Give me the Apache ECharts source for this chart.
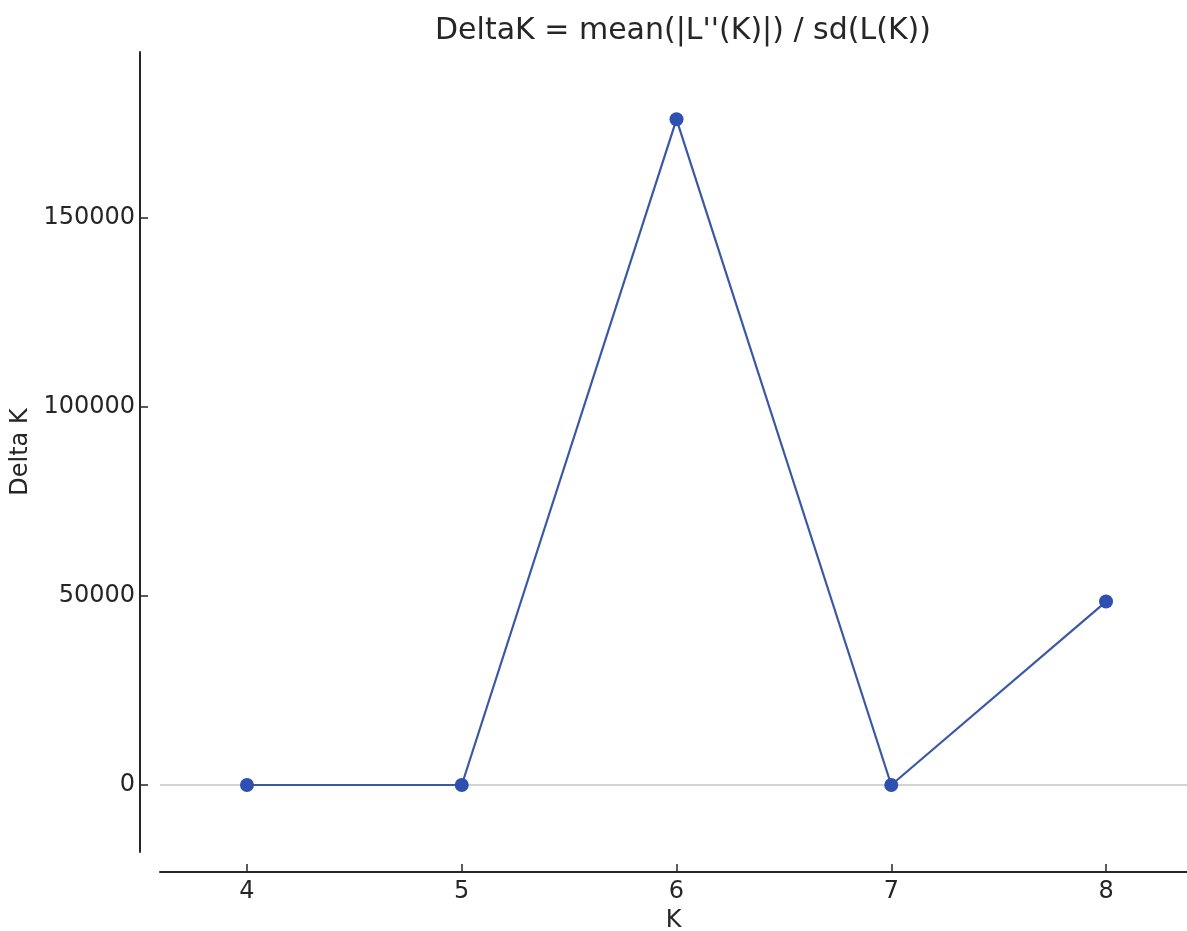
<!DOCTYPE html>
<html>
<head>
<meta charset="utf-8">
<script src="https://cdn.jsdelivr.net/npm/echarts@6/dist/echarts.min.js"></script>
<style>
  html, body { margin: 0; padding: 0; background: #fff; }
  #chart { width: 1187px; height: 931px; }
</style>
</head>
<body>
<div id="chart"></div>
<script>
const kValues = [4, 5, 6, 7, 8]
const deltaK = [0, 0, 176000, 0, 48500]
const xTicks = [4, 5, 6, 7, 8]
const yTicks = [0, 50000, 100000, 150000]

const font = 'DejaVu Sans'
const ink = '#262626'

const chart = echarts.init(document.getElementById('chart'))
chart.setOption({
  animation: false,
  title: {
    text: "DeltaK = mean(|L''(K)|) / sd(L(K))",
    left: 678, top: 11, textAlign: 'center',
    textStyle: { fontFamily: font, fontSize: 30, fontWeight: 'normal', color: ink }
  },
  grid: { left: 160, right: 0, top: 52, bottom: 79, outerBoundsMode: 'none', containLabel: false },
  xAxis: {
    type: 'value', min: 3.595, max: 8.377, offset: 20,
    name: 'K', nameLocation: 'middle', nameGap: 34,
    nameTextStyle: { fontFamily: font, fontSize: 24, color: ink },
    axisLine: { onZero: false, lineStyle: { color: ink, width: 2 } },
    axisTick: { inside: true, length: 8, customValues: xTicks, lineStyle: { color: ink, width: 1.5 } },
    axisLabel: { customValues: xTicks, margin: 8, fontFamily: font, fontSize: 24, color: ink, formatter: v => String(v) },
    splitLine: { show: false }
  },
  yAxis: {
    type: 'value', min: -17715, max: 193800, offset: 20,
    name: 'Delta K', nameLocation: 'middle', nameGap: 89,
    nameTextStyle: { fontFamily: font, fontSize: 24, color: ink },
    axisLine: { show: true, onZero: false, lineStyle: { color: ink, width: 2 } },
    axisTick: { show: true, inside: true, length: 8, customValues: yTicks, lineStyle: { color: ink, width: 1.5 } },
    axisLabel: { customValues: yTicks, margin: 5, fontFamily: font, fontSize: 24, color: ink, formatter: v => String(v) },
    splitLine: { show: false }
  },
  series: [
    {
      // zero reference line, kept on a lower layer than the data line
      type: 'line', data: [], zlevel: 0, silent: true,
      markLine: {
        symbol: ['none', 'none'], silent: true, label: { show: false },
        lineStyle: { color: '#c4c4c4', width: 1.5, type: 'solid' },
        data: [{ yAxis: 0 }]
      }
    },
    {
      type: 'line', zlevel: 1,
      data: kValues.map((k, i) => [k, deltaK[i]]),
      symbol: 'circle', symbolSize: 14,
      lineStyle: { color: '#3a58a4', width: 2.2 },
      itemStyle: { color: '#2e50b0' }
    }
  ]
})
</script>
</body>
</html>
